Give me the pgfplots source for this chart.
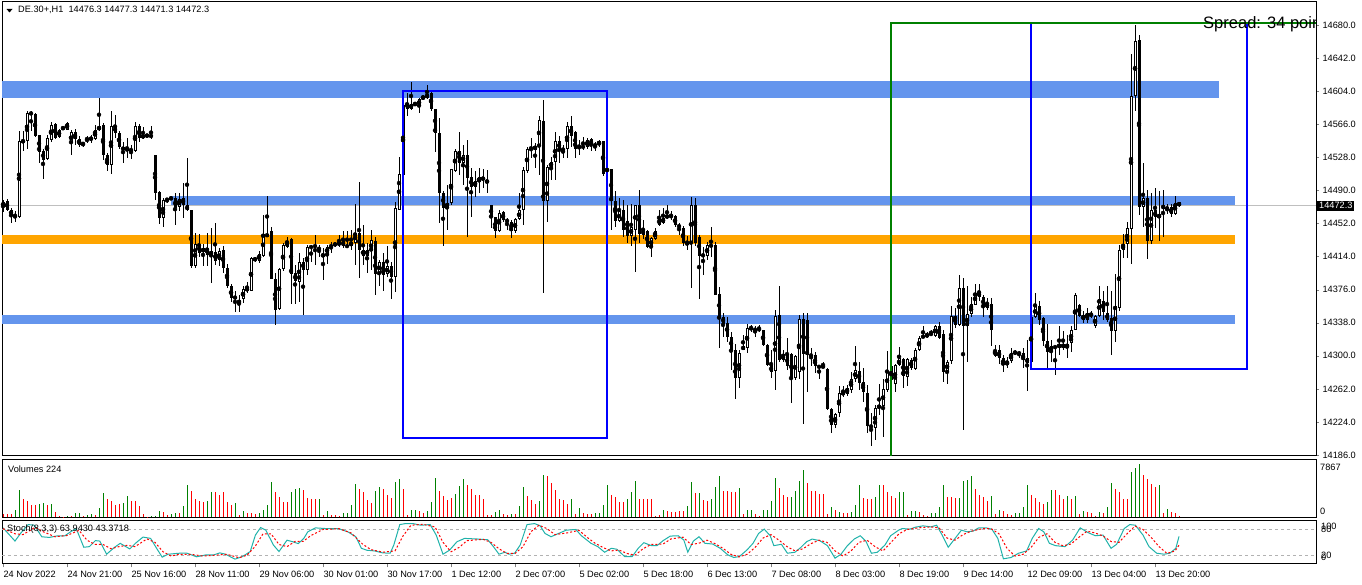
\documentclass[border=0pt]{standalone}
\usepackage{fontspec}
\setmainfont{Liberation Sans}
\usepackage{pgfplots}
\pgfplotsset{compat=1.18}
\usepackage{pgfplotstable}

\definecolor{cband}{HTML}{6495ED}
\definecolor{oband}{HTML}{FFA500}
\definecolor{rectblue}{HTML}{0000FF}
\definecolor{mtgreen}{HTML}{008000}
\definecolor{vred}{HTML}{FF0000}
\definecolor{stk}{HTML}{20B2AA}
\newcommand{\mtfont}{\fontsize{9.2bp}{10bp}\selectfont}

% i open high low close volume up(1=green)
\pgfplotstableread{
i o h l c v g
0 14471 14479 14465 14477 443 0
1 14478 14480 14466 14468 443 0
2 14468 14470 14453 14461 492 0
3 14462 14466 14454 14460 1082 1
4 14460 14558 14458 14547 4034 1
5 14547 14558 14535 14546 2755 0
6 14547 14581 14538 14579 2460 0
7 14579 14581 14558 14578 1820 0
8 14578 14579 14551 14552 1820 0
9 14554 14554 14521 14534 1919 1
10 14535 14538 14503 14525 2066 1
11 14526 14554 14525 14550 1820 0
12 14548 14569 14546 14565 1968 1
13 14566 14568 14549 14550 787 0
14 14551 14561 14550 14560 148 0
15 14561 14563 14560 14562 98 0
16 14560 14569 14560 14567 197 1
17 14544 14560 14531 14557 197 0
18 14557 14561 14542 14549 590 1
19 14549 14552 14540 14542 590 1
20 14544 14546 14540 14543 246 0
21 14548 14552 14544 14550 344 1
22 14549 14554 14545 14550 443 1
23 14549 14565 14548 14560 344 0
24 14559 14596 14558 14564 1427 1
25 14565 14567 14525 14531 3641 1
26 14531 14533 14512 14519 2755 0
27 14519 14581 14509 14564 2460 0
28 14564 14577 14550 14556 1820 0
29 14556 14558 14538 14540 1919 0
30 14540 14546 14522 14536 2066 1
31 14536 14550 14527 14538 3149 1
32 14538 14542 14526 14535 2460 0
33 14535 14569 14534 14564 2460 0
34 14564 14566 14546 14550 1673 0
35 14550 14563 14549 14554 492 0
36 14553 14554 14552 14553 98 0
37 14553 14564 14549 14552 148 1
38 14531 14531 14479 14487 246 1
39 14488 14489 14452 14458 935 1
40 14458 14481 14448 14479 787 0
41 14479 14481 14476 14480 344 0
42 14481 14483 14479 14481 492 1
43 14481 14487 14450 14470 590 1
44 14471 14487 14466 14480 590 0
45 14481 14498 14458 14473 1673 1
46 14473 14527 14466 14467 4772 1
47 14467 14468 14401 14403 3936 0
48 14403 14441 14401 14428 2755 0
49 14428 14440 14414 14418 2411 0
50 14419 14429 14403 14424 2312 0
51 14424 14441 14403 14416 2411 1
52 14416 14447 14384 14420 3739 1
53 14419 14452 14404 14409 3739 0
54 14410 14424 14403 14420 3346 0
55 14422 14426 14395 14401 3739 0
56 14401 14406 14378 14380 2312 0
57 14380 14383 14362 14366 1820 0
58 14368 14374 14350 14366 2066 1
59 14360 14370 14350 14364 344 0
60 14365 14380 14361 14377 935 1
61 14375 14385 14372 14378 689 0
62 14375 14414 14374 14412 590 0
63 14411 14414 14408 14411 443 0
64 14409 14420 14407 14417 590 1
65 14415 14462 14414 14440 1082 1
66 14440 14483 14437 14437 1820 1
67 14444 14448 14388 14388 5264 1
68 14388 14395 14336 14353 3788 0
69 14354 14401 14353 14400 3050 0
70 14400 14429 14397 14427 2214 0
71 14425 14437 14424 14432 2214 0
72 14434 14435 14360 14394 3788 1
73 14395 14404 14360 14386 4182 1
74 14385 14418 14362 14408 4280 1
75 14408 14412 14347 14399 4034 0
76 14398 14427 14393 14425 2804 0
77 14424 14427 14408 14426 2755 0
78 14425 14439 14404 14427 2755 0
79 14424 14427 14414 14422 2755 1
80 14414 14424 14387 14417 344 0
81 14417 14427 14406 14425 935 1
82 14425 14431 14418 14427 295 0
83 14429 14431 14425 14427 295 0
84 14427 14439 14425 14431 197 0
85 14432 14443 14424 14426 590 1
86 14425 14443 14424 14427 590 1
87 14426 14445 14422 14431 1820 1
88 14430 14475 14404 14441 4920 1
89 14441 14500 14389 14422 4231 0
90 14415 14450 14404 14422 3690 0
91 14415 14429 14395 14422 2509 0
92 14420 14445 14399 14433 2165 0
93 14432 14437 14370 14394 3887 1
94 14394 14410 14380 14408 4477 1
95 14408 14418 14375 14393 4133 0
96 14394 14426 14391 14403 3296 0
97 14403 14408 14365 14391 2804 0
98 14390 14477 14373 14470 5264 1
99 14468 14529 14468 14509 5658 1
100 14508 14595 14506 14588 4133 0
101 14591 14602 14576 14584 344 0
102 14584 14615 14582 14589 1082 1
103 14589 14591 14587 14590 1082 1
104 14587 14596 14579 14595 935 0
105 14595 14600 14594 14598 640 0
106 14596 14611 14595 14601 935 1
107 14602 14604 14581 14584 2312 1
108 14584 14584 14534 14556 5756 1
109 14556 14573 14452 14487 3887 0
110 14487 14489 14426 14470 3198 0
111 14471 14496 14445 14475 2509 0
112 14476 14514 14473 14514 2804 0
113 14512 14537 14511 14535 3395 1
114 14535 14557 14508 14522 4674 1
115 14522 14542 14496 14531 5658 1
116 14531 14548 14436 14504 4772 0
117 14505 14516 14460 14494 4133 0
118 14494 14512 14483 14501 3247 0
119 14500 14516 14487 14505 3247 0
120 14504 14514 14493 14503 2706 0
121 14502 14514 14487 14498 344 0
122 14473 14473 14447 14459 344 0
123 14459 14460 14435 14443 836 1
124 14443 14468 14442 14464 1082 1
125 14465 14466 14454 14456 443 0
126 14456 14458 14445 14454 344 0
127 14454 14456 14435 14444 443 1
128 14443 14458 14441 14457 492 0
129 14457 14487 14456 14467 1673 1
130 14467 14517 14450 14514 4477 1
131 14512 14540 14510 14538 3100 0
132 14538 14550 14527 14537 2558 0
133 14537 14544 14516 14541 1968 0
134 14541 14575 14508 14571 2411 1
135 14570 14594 14372 14478 6248 1
136 14478 14519 14454 14517 6052 0
137 14516 14529 14502 14523 5068 0
138 14523 14557 14502 14547 4084 0
139 14547 14552 14521 14536 2706 0
140 14538 14542 14527 14536 2558 0
141 14537 14569 14527 14564 1968 0
142 14564 14576 14540 14553 2706 1
143 14557 14558 14527 14538 443 0
144 14540 14548 14531 14541 1427 1
145 14540 14551 14537 14540 590 0
146 14540 14550 14538 14548 492 0
147 14549 14550 14535 14542 492 0
148 14541 14546 14535 14543 590 1
149 14542 14548 14540 14547 640 1
150 14547 14547 14507 14509 1820 1
151 14513 14515 14512 14514 4772 1
152 14514 14515 14445 14478 3296 0
153 14478 14489 14448 14455 2952 0
154 14455 14481 14454 14466 2263 0
155 14468 14479 14437 14445 2263 0
156 14455 14473 14429 14438 2755 1
157 14438 14475 14426 14448 3739 1
158 14445 14473 14396 14473 5412 1
159 14473 14491 14430 14440 2755 0
160 14445 14456 14434 14439 2755 0
161 14444 14445 14424 14425 2755 0
162 14425 14437 14414 14435 2755 0
163 14434 14447 14433 14443 246 0
164 14458 14468 14449 14450 344 0
165 14453 14470 14452 14458 1082 1
166 14458 14473 14457 14462 935 0
167 14462 14466 14456 14459 738 0
168 14461 14462 14448 14450 738 0
169 14450 14452 14439 14448 935 0
170 14447 14449 14426 14430 935 0
171 14430 14438 14422 14428 1673 1
172 14429 14482 14378 14473 5215 1
173 14473 14481 14426 14429 3592 0
174 14437 14439 14365 14415 3592 1
175 14416 14425 14393 14415 2558 0
176 14415 14431 14410 14427 2460 0
177 14427 14448 14414 14426 2755 1
178 14427 14431 14370 14370 4477 1
179 14371 14379 14309 14345 6101 1
180 14345 14349 14322 14337 3887 0
181 14338 14345 14316 14322 3887 0
182 14322 14328 14284 14307 3739 0
183 14307 14314 14250 14274 3739 0
184 14275 14307 14263 14303 4280 1
185 14311 14324 14307 14307 443 0
186 14309 14337 14303 14332 1132 1
187 14332 14335 14328 14332 1132 1
188 14330 14334 14322 14330 492 0
189 14330 14335 14328 14331 246 0
190 14330 14330 14311 14312 1082 1
191 14312 14314 14288 14289 1082 1
192 14289 14307 14274 14281 2460 1
193 14282 14353 14261 14346 5806 1
194 14347 14380 14293 14295 4330 0
195 14295 14307 14293 14302 3247 0
196 14301 14320 14284 14288 3001 0
197 14302 14303 14246 14273 3001 1
198 14274 14301 14272 14300 3838 1
199 14281 14347 14273 14342 5363 1
200 14342 14349 14222 14302 6986 1
201 14341 14349 14258 14301 5068 0
202 14301 14309 14288 14300 3936 0
203 14301 14305 14280 14288 3936 0
204 14288 14290 14274 14287 3395 0
205 14288 14293 14286 14287 3395 0
206 14285 14286 14238 14239 443 0
207 14239 14240 14211 14221 1476 1
208 14221 14234 14217 14233 1082 0
209 14234 14265 14230 14257 738 1
210 14255 14265 14253 14259 689 0
211 14256 14267 14254 14263 689 0
212 14261 14282 14257 14273 738 1
213 14273 14311 14270 14284 1820 1
214 14283 14293 14261 14269 4772 1
215 14270 14286 14247 14258 2903 0
216 14257 14267 14211 14219 2755 0
217 14220 14234 14196 14218 2755 0
218 14217 14244 14203 14240 3050 1
219 14240 14268 14232 14243 4772 1
220 14242 14273 14207 14262 4772 0
221 14261 14306 14258 14282 3690 0
222 14272 14291 14267 14288 3100 0
223 14268 14291 14259 14289 2903 0
224 14289 14310 14288 14297 3690 1
225 14296 14297 14263 14277 3690 1
226 14276 14297 14265 14296 394 0
227 14295 14297 14284 14286 935 1
228 14285 14309 14284 14307 935 1
229 14307 14323 14306 14320 836 0
230 14321 14334 14320 14323 344 0
231 14322 14328 14320 14325 148 0
232 14325 14330 14323 14325 590 1
233 14323 14335 14322 14334 689 1
234 14334 14339 14319 14320 1476 1
235 14325 14330 14270 14282 4772 1
236 14282 14295 14268 14293 2952 0
237 14294 14357 14291 14346 2952 0
238 14346 14355 14332 14335 2854 0
239 14335 14393 14334 14378 2854 1
240 14378 14389 14215 14334 5363 1
241 14334 14380 14293 14348 5510 1
242 14348 14367 14345 14359 6101 1
243 14359 14383 14358 14372 4231 0
244 14373 14383 14363 14368 3296 0
245 14368 14370 14344 14356 3050 0
246 14355 14367 14353 14361 2460 0
247 14360 14366 14311 14330 3149 1
248 14300 14312 14299 14307 541 0
249 14307 14312 14291 14298 1033 1
250 14298 14301 14281 14289 935 0
251 14289 14299 14286 14294 443 0
252 14294 14309 14292 14303 344 0
253 14303 14307 14301 14304 590 1
254 14304 14306 14298 14302 590 1
255 14303 14309 14286 14295 1525 1
256 14297 14318 14260 14292 4772 1
257 14293 14350 14290 14345 3247 0
258 14345 14372 14344 14357 2854 0
259 14357 14363 14335 14341 2263 0
260 14344 14345 14311 14317 2017 0
261 14317 14337 14286 14305 2263 1
262 14305 14318 14293 14311 4084 1
263 14311 14312 14278 14309 4084 0
264 14309 14334 14301 14314 3247 0
265 14309 14328 14307 14314 2657 0
266 14309 14324 14297 14314 3149 1
267 14315 14334 14304 14330 2657 0
268 14330 14372 14330 14370 3149 1
269 14358 14360 14345 14346 443 0
270 14347 14351 14338 14341 935 1
271 14341 14355 14338 14349 738 0
272 14348 14351 14344 14346 590 0
273 14334 14347 14332 14346 197 0
274 14346 14380 14345 14365 787 1
275 14363 14374 14341 14350 590 0
276 14349 14380 14339 14341 1525 1
277 14343 14374 14301 14328 5068 1
278 14328 14394 14316 14357 4231 0
279 14355 14427 14351 14422 3690 0
280 14422 14440 14413 14428 2755 0
281 14428 14454 14413 14447 2755 0
282 14446 14647 14405 14598 6691 1
283 14598 14680 14581 14662 7282 1
284 14663 14668 14462 14471 7867 1
285 14471 14522 14448 14481 6199 0
286 14481 14491 14411 14432 5658 0
287 14432 14487 14428 14468 4969 0
288 14467 14493 14447 14459 4477 0
289 14458 14489 14432 14463 4772 1
290 14473 14491 14437 14469 640 0
291 14471 14474 14463 14468 1230 1
292 14471 14474 14459 14463 738 0
293 14463 14483 14462 14476 640 0
294 14476.3 14477.3 14471.3 14472.3 224 0
}\candles

\begin{document}
\begin{tikzpicture}
\useasboundingbox (0,0) rectangle (1362bp,585bp);
\pgfplotsset{mt/.style={scale only axis, width=1314bp, xmin=-0.25, xmax=328.25,
  axis line style={line width=1bp}, tick label style={font=\mtfont},
  /pgf/number format/assume math mode=true, anchor=south west}}

% ---------- price panel ----------
\begin{axis}[mt, at={(2bp,129bp)}, height=454bp, ymin=14184.9, ymax=14706.4,
  xtick=\empty, scaled y ticks=false,
  ytick={14186,14224,14262,14300,14338,14376,14414,14452,14490,14528,14566,14604,14642,14680},
  ytick pos=right, yticklabel pos=right, tick align=outside, major tick length=3bp,
  /pgf/number format/fixed, /pgf/number format/fixed zerofill,
  /pgf/number format/precision=1, /pgf/number format/1000 sep={}]
\fill[cband] (axis cs:-0.25,14596.5) rectangle (axis cs:304,14615.7);
\fill[cband] (axis cs:41.9,14473.2) rectangle (axis cs:308,14483.6);
\fill[oband] (axis cs:-0.25,14428.4) rectangle (axis cs:308,14438.8);
\fill[cband] (axis cs:-0.25,14336.5) rectangle (axis cs:308,14346.8);
\draw[black!25, line width=0.8bp] (axis cs:-0.25,14472.3) -- (axis cs:328.25,14472.3);
% wicks
\addplot[only marks, mark=none, error bars/.cd, y dir=both, y explicit, error mark=none,
  error bar style={black, line width=1bp}]
  table[x=i, y expr={(\thisrow{h}+\thisrow{l})/2}, y error expr={(\thisrow{h}-\thisrow{l})/2}] {\candles};
% bodies
\addplot[only marks, mark=none, error bars/.cd, y dir=both, y explicit, error mark=none,
  error bar style={black, line width=3bp}]
  table[x=i, y expr={(\thisrow{o}+\thisrow{c})/2}, y error expr={max(abs(\thisrow{c}-\thisrow{o})/2,0.6)}] {\candles};
% hollow inside of rising candles
\addplot[only marks, mark=none, restrict expr to domain={\thisrow{c}-\thisrow{o}}{2.4:1000},
  error bars/.cd, y dir=both, y explicit, error mark=none, error bar style={white, line width=1bp}]
  table[x=i, y expr={(\thisrow{o}+\thisrow{c})/2}, y error expr={(\thisrow{c}-\thisrow{o})/2-1.15}] {\candles};
\draw[rectblue, line width=2bp] (axis cs:99.9,14604.2) rectangle (axis cs:151,14205.9);
\draw[rectblue, line width=2bp] (axis cs:256.9,14682.3) rectangle (axis cs:311.1,14285.2);
\draw[mtgreen, line width=2bp] (axis cs:222,14184.9) -- (axis cs:222,14682.3) -- (axis cs:328.25,14682.3);
\begin{scope}
\clip (axis cs:-0.25,14184.9) rectangle (axis cs:328.25,14706.4);
\node[anchor=base west, inner sep=0, font=\fontsize{16.5bp}{18bp}\selectfont] at (axis cs:300,14676.2) {Spread: 34 points};
\end{scope}
\end{axis}

% ---------- volumes ----------
\begin{axis}[mt, at={(2bp,67.5bp)}, height=58bp, ymin=0, ymax=8530, xtick=\empty, ytick=\empty]
\addplot[ycomb, mtgreen, line width=1bp, mark=none, restrict expr to domain={\thisrow{g}}{0.5:1.5}]
  table[x=i, y=v] {\candles};
\addplot[ycomb, vred, line width=1bp, mark=none, restrict expr to domain={\thisrow{g}}{-0.5:0.5}]
  table[x=i, y=v] {\candles};
\end{axis}

% ---------- stochastic ----------
\begin{axis}[mt, at={(2bp,21.5bp)}, height=43bp, ymin=0.6, ymax=101, ytick=\empty,
  xtick={0,16,32,48,64,80,96,112,128,144,160,176,192,208,224,240,256,272,288},
  xticklabels={24 Nov 2022,24 Nov 21:00,25 Nov 16:00,28 Nov 11:00,29 Nov 06:00,30 Nov 01:00,30 Nov 17:00,1 Dec 12:00,2 Dec 07:00,5 Dec 02:00,5 Dec 18:00,6 Dec 13:00,7 Dec 08:00,8 Dec 03:00,8 Dec 19:00,9 Dec 14:00,12 Dec 09:00,13 Dec 04:00,13 Dec 20:00},
  xtick pos=bottom, tick align=outside, major tick length=4bp,
  xticklabel style={anchor=north west, xshift=-3bp}]
\draw[black!30, dashed, line width=0.8bp] (axis cs:-0.25,20) -- (axis cs:328.25,20);
\draw[black!30, dashed, line width=0.8bp] (axis cs:-0.25,80) -- (axis cs:328.25,80);
\addplot[stk, line width=1bp, mark=none] coordinates {
(0,84)(3,53)(4.4,71)(6.3,91.5)(7.8,90)(9.7,63)(11.6,61.5)(13.5,65)(15.4,65)(16.9,74.6)(18.3,82.3)(20.2,38.5)(21.6,40)(23.1,54)(24.2,53)(25.9,22.3)(27.9,38.5)(29.3,47.7)(31.7,34.6)(33.1,47.7)(35,62.3)(36.9,59.2)(38.4,36.1)(39.8,15.4)(41.3,22.3)(44.1,24.6)(46,24.6)(48.4,16.2)(50.8,20.8)(52.7,20.8)(54.2,25.4)(55.6,22.3)(58,10.8)(59.9,17)(61.8,28.5)(63.1,66.9)(64.4,84.6)(65.7,78.4)(67.6,43.8)(69,28.5)(71,55)(72.4,51.5)(73.8,47)(75.2,59.2)(76.2,74.6)(78.1,83.8)(80.5,82.3)(83.8,82.3)(86.2,74.6)(88.2,63.1)(89.6,36.1)(91,31.5)(92.9,30)(94.9,25.4)(96.8,24.6)(97.7,43.8)(99.2,91.5)(100.6,93.8)(102.5,93.8)(104.4,90)(106.8,91.5)(108.3,66.9)(110,22.3)(111.6,31.5)(113.5,51.5)(115.4,59.2)(118.8,57.7)(121.2,56)(122.6,40)(124,22.3)(125.5,27)(126.4,22.3)(127.9,24.6)(129.3,43.8)(131,91.5)(132.9,93.8)(134.3,88.5)(135.5,70.8)(137,63.1)(138.9,70.8)(140.8,78.4)(143.2,80)(144.6,65.4)(147,47.7)(148.7,40)(150.4,26.9)(152.1,36.1)(153.5,33.8)(155.4,16.9)(157.3,16.9)(158.8,36.1)(160.2,49.2)(162.1,42.3)(163.5,42.3)(165,53.8)(166.8,64.6)(168.8,65.4)(170.2,55.4)(171.2,26.9)(172.6,53.1)(174,63.1)(175.5,47.7)(177.4,46.1)(179.3,36.1)(181.2,20.8)(182.7,14.6)(184.1,16.9)(186,32.3)(187.5,47.7)(188.9,70.8)(190.3,80.8)(191.8,65.4)(192.7,42.3)(194.6,45.4)(196.1,24.6)(198,26.9)(199.4,37.7)(200.9,51.5)(202.3,57.7)(204.2,53.8)(206.1,42.3)(208,13.1)(209.5,22.3)(211.1,42.3)(212.8,57.7)(214.3,65.4)(215.7,53.1)(217.1,24.6)(218.6,26.9)(220.5,43.8)(221.9,65.4)(223.9,78.4)(224.8,82.3)(226.7,80.8)(228.1,85.4)(230,88.5)(232,86.1)(233.4,90)(234.8,66.9)(236.3,38.5)(238.2,61.5)(239.6,78.4)(241,74.6)(242.5,76.2)(243.9,83.8)(245.8,83.8)(247.2,80.8)(248.7,59.2)(250.1,11.5)(252,14.6)(253.9,24.6)(255.9,30)(257.3,59.2)(258.9,82.3)(260.2,74.6)(261.6,47.7)(263.1,42.3)(265.5,40)(267.4,55.4)(269.3,83.8)(271.2,73)(273.1,65.4)(275,66.9)(277,36.1)(278.4,45.4)(280.3,82.3)(281.7,91.5)(283.1,90)(285,66.9)(286.5,40)(288.4,24.6)(290.3,22.3)(291.7,24.6)(293.2,36.1)(294,63.9)
};
\addplot[vred, line width=1bp, mark=none, dash pattern=on 2bp off 2bp] coordinates {
(0,82)(3,70)(5,68)(8,85)(10,75)(13,63)(16,66)(19,78)(21,55)(23,45)(25,45)(27,35)(29,40)(31,43)(33,40)(36,58)(38,50)(40,28)(42,18)(44,22)(47,22)(50,18)(53,20)(56,22)(59,14)(61,20)(63,40)(65,70)(67,70)(69,45)(71,40)(73,52)(75,52)(77,66)(80,80)(84,82)(87,72)(90,45)(92,33)(95,27)(98,30)(100,65)(102,90)(105,92)(108,86)(110,50)(112,28)(114,38)(116,54)(120,57)(122,50)(124,35)(126,24)(128,24)(130,40)(132,75)(134,90)(136,82)(138,68)(141,72)(144,78)(146,62)(148,48)(150,38)(152,30)(154,32)(156,24)(158,20)(160,35)(162,45)(165,46)(167,58)(170,62)(172,45)(174,48)(176,55)(178,47)(180,36)(182,22)(184,16)(186,22)(188,38)(190,60)(192,68)(194,55)(196,40)(198,30)(200,35)(202,47)(204,55)(206,50)(208,30)(210,18)(212,30)(214,50)(216,55)(218,40)(220,30)(222,50)(224,70)(226,80)(229,84)(232,86)(234,84)(236,60)(238,55)(240,68)(242,76)(245,82)(247,82)(249,70)(251,36)(253,18)(255,22)(257,38)(259,62)(261,70)(263,50)(265,42)(267,46)(269,62)(271,76)(273,72)(275,65)(277,52)(279,50)(281,70)(283,88)(285,80)(287,62)(289,40)(291,24)(293,30)(294,43.4)
};
\end{axis}

% ---------- texts around the panels ----------
\fill (6.5bp,576bp) -- (12.5bp,576bp) -- (9.5bp,572.5bp) -- cycle;
\node[anchor=west, inner sep=0, font=\mtfont] at (18bp,575bp) {DE.30+,H1\ \ 14476.3 14477.3 14471.3 14472.3};
\node[anchor=west, inner sep=0, font=\mtfont] at (8bp,116bp) {Volumes 224};
\node[anchor=west, inner sep=0, font=\mtfont] at (7bp,56bp) {Stoch(8,3,3) 63.9430 43.3718};
\node[anchor=west, inner sep=0, font=\mtfont] at (1320bp,118bp) {7867};
\node[anchor=west, inner sep=0, font=\mtfont] at (1320bp,74bp) {0};
\node[anchor=west, inner sep=0, font=\mtfont] at (1321bp,59bp) {100};
\node[anchor=west, inner sep=0, font=\mtfont] at (1321bp,55.5bp) {80};
\node[anchor=west, inner sep=0, font=\mtfont] at (1321bp,29.5bp) {20};
\node[anchor=west, inner sep=0, font=\mtfont] at (1321bp,27.5bp) {0};
\node[anchor=west, fill=black, text=white, inner xsep=2bp, inner ysep=1.5bp, font=\mtfont] at (1317bp,379.2bp) {14472.3};
\end{tikzpicture}
\end{document}
